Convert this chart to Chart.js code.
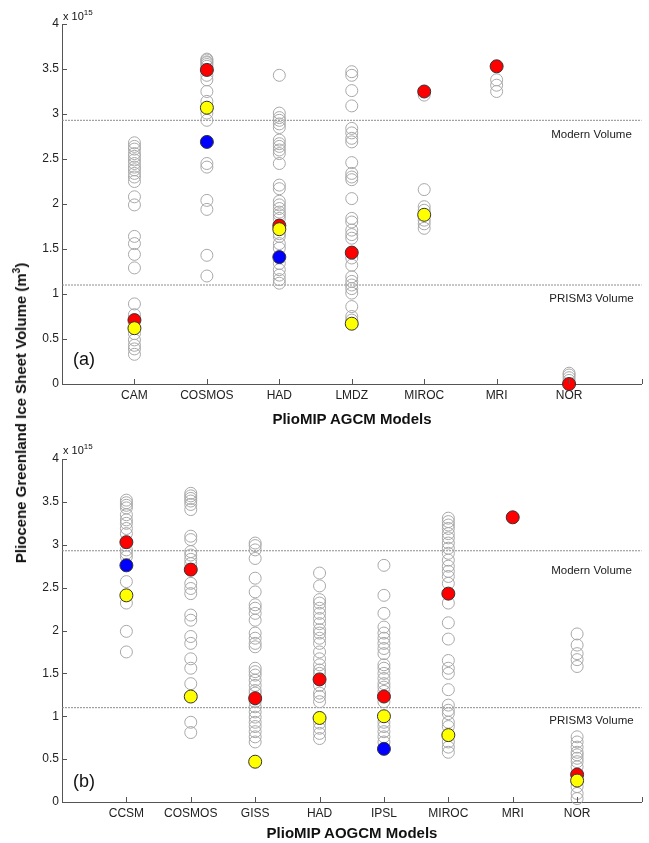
<!DOCTYPE html>
<html>
<head>
<meta charset="utf-8">
<script src="https://cdn.jsdelivr.net/npm/chart.js@4.4.1/dist/chart.umd.min.js"></script>
<style>
  body { margin: 0; background: #fff; font-family: "Liberation Sans", Arial, sans-serif; }
  #wrap { position: relative; width: 649px; height: 843px; overflow: hidden; }
  canvas { position: absolute; left: 0; }
  .t { position: absolute; color: #111; white-space: nowrap; }
  .title { font-weight: bold; font-size: 15px; transform: translate(-50%, -50%); }
  .ylab { font-weight: bold; font-size: 15px; left: 20px; top: 413px; transform: translate(-50%, -50%) rotate(-90deg); }
  .exp { font-size: 11px; left: 63px; }
  .exp sup { font-size: 8px; vertical-align: 5px; }
  .panel { font-size: 18px; left: 73px; }
</style>
</head>
<body>
<div id="wrap">
  <canvas id="agcm" width="649" height="420" style="top:0"></canvas>
  <canvas id="aogcm" width="649" height="423" style="top:420px"></canvas>
  <div class="t ylab">Pliocene Greenland Ice Sheet Volume (m<sup style="font-size:10px">3</sup>)</div>
  <div class="t title" style="left:352px; top:418px">PlioMIP AGCM Models</div>
  <div class="t title" style="left:352px; top:832px">PlioMIP AOGCM Models</div>
  <div class="t exp" style="top:8px">x 10<sup>15</sup></div>
  <div class="t exp" style="top:442px">x 10<sup>15</sup></div>
  <div class="t panel" style="top:349px">(a)</div>
  <div class="t panel" style="top:771px">(b)</div>
</div>
<script>
// volumes in units of 1e15 m3
const MODERN = 2.93;
const PRISM3 = 1.10;

const agcmModels = ['CAM', 'COSMOS', 'HAD', 'LMDZ', 'MIROC', 'MRI', 'NOR'];
const agcmGrey = [
  [2.68, 2.64, 2.61, 2.56, 2.53, 2.49, 2.45, 2.41, 2.38, 2.34, 2.30, 2.25, 2.08, 1.99, 1.64, 1.56, 1.44, 1.29, 0.89, 0.77, 0.56, 0.49, 0.43, 0.39, 0.33],
  [3.61, 3.60, 3.58, 3.57, 3.55, 3.53, 3.43, 3.38, 3.25, 3.14, 3.01, 2.93, 2.45, 2.41, 2.04, 1.94, 1.43, 1.20],
  [3.43, 3.01, 2.96, 2.93, 2.89, 2.85, 2.71, 2.67, 2.64, 2.60, 2.56, 2.45, 2.21, 2.17, 2.03, 1.99, 1.95, 1.91, 1.88, 1.84, 1.67, 1.64, 1.56, 1.51, 1.34, 1.27, 1.21, 1.16, 1.12],
  [3.47, 3.43, 3.26, 3.09, 2.84, 2.79, 2.73, 2.69, 2.46, 2.34, 2.30, 2.27, 2.06, 1.84, 1.80, 1.71, 1.66, 1.62, 1.40, 1.32, 1.19, 1.14, 1.10, 1.06, 1.01, 0.86, 0.75, 0.71],
  [3.21, 2.16, 1.97, 1.93, 1.82, 1.78, 1.73],
  [3.38, 3.32, 3.25],
  [0.04, 0.07, 0.10, 0.12]
];
const agcmRed = [0.71, 3.49, 1.76, 1.46, 3.25, 3.53, 0.00];
const agcmYellow = [0.62, 3.07, 1.72, 0.67, 1.88, null, null];
const agcmBlue = [null, 2.69, 1.41, null, null, null, null];

const aogcmModels = ['CCSM', 'COSMOS', 'GISS', 'HAD', 'IPSL', 'MIROC', 'MRI', 'NOR'];
const aogcmGrey = [
  [3.52, 3.49, 3.46, 3.43, 3.35, 3.29, 3.25, 3.19, 3.13, 2.94, 2.90, 2.86, 2.57, 2.32, 1.99, 1.75],
  [3.60, 3.57, 3.54, 3.51, 3.47, 3.41, 3.10, 3.06, 2.92, 2.88, 2.83, 2.78, 2.55, 2.49, 2.43, 2.18, 2.12, 1.93, 1.85, 1.67, 1.56, 1.38, 0.93, 0.81],
  [3.02, 2.99, 2.94, 2.84, 2.61, 2.45, 2.30, 2.26, 2.20, 2.12, 1.97, 1.91, 1.85, 1.81, 1.56, 1.52, 1.48, 1.42, 1.36, 1.30, 1.27, 1.17, 1.11, 1.05, 0.99, 0.93, 0.88, 0.82, 0.76, 0.70],
  [2.67, 2.52, 2.36, 2.32, 2.26, 2.20, 2.14, 2.08, 2.01, 1.97, 1.91, 1.85, 1.75, 1.67, 1.60, 1.54, 1.50, 1.36, 1.27, 1.23, 1.17, 0.92, 0.86, 0.80, 0.74],
  [2.76, 2.41, 2.20, 2.04, 1.97, 1.91, 1.85, 1.79, 1.73, 1.60, 1.56, 1.50, 1.44, 1.38, 1.34, 1.29, 1.17, 0.93, 0.88, 0.82, 0.76, 0.70],
  [3.31, 3.27, 3.23, 3.19, 3.13, 3.08, 3.02, 2.96, 2.90, 2.82, 2.75, 2.69, 2.63, 2.55, 2.32, 2.09, 1.90, 1.65, 1.56, 1.50, 1.31, 1.13, 1.07, 1.03, 0.93, 0.88, 0.70, 0.64, 0.58],
  [],
  [1.96, 1.83, 1.73, 1.66, 1.58, 0.76, 0.70, 0.64, 0.58, 0.55, 0.51, 0.47, 0.41, 0.18, 0.10, 0.04]
];
const aogcmRed = [3.03, 2.71, 1.21, 1.43, 1.23, 2.43, 3.32, 0.32];
const aogcmYellow = [2.41, 1.23, 0.47, 0.98, 1.00, 0.78, null, 0.25];
const aogcmBlue = [2.76, null, null, null, 0.62, null, null, null];

const yTicks = ['0', '0.5', '1', '1.5', '2', '2.5', '3', '3.5', '4'];

const AXIS = '#555555';
const FONT = '"Liberation Sans", Arial, sans-serif';

function greyPoints(groups) {
  return groups.flatMap((vals, i) => vals.map(v => ({ x: i + 1, y: v })));
}
function singlePoints(vals) {
  return vals.map((v, i) => v == null ? null : { x: i + 1, y: v }).filter(p => p);
}

// inward tick marks + reference-line labels
const extras = {
  id: 'extras',
  afterDraw(chart, args, opts) {
    const { ctx, chartArea: ca, scales: { x, y } } = chart;
    ctx.save();
    ctx.strokeStyle = AXIS;
    ctx.lineWidth = 1;
    ctx.beginPath();
    y.ticks.forEach(t => {
      const py = Math.round(y.getPixelForValue(t.value)) + 0.5;
      ctx.moveTo(ca.left, py);
      ctx.lineTo(ca.left + 5, py);
    });
    x.ticks.forEach(t => {
      if (t.value === 0) return;
      const px = Math.round(x.getPixelForValue(t.value)) + 0.5;
      ctx.moveTo(px, ca.bottom);
      ctx.lineTo(px, ca.bottom - 5);
    });
    ctx.stroke();
    ctx.fillStyle = '#222';
    ctx.font = '11.5px ' + FONT;
    ctx.textAlign = 'center';
    ctx.textBaseline = 'middle';
    opts.labels.forEach(l => {
      ctx.fillText(l.text, ca.right - 50, y.getPixelForValue(l.value) + l.dy);
    });
    ctx.restore();
  }
};

function makeChart(id, models, grey, red, yellow, blue, topPad, xHeight, labelDy) {
  const xMax = models.length + 1;
  const refLine = v => ({
    type: 'line',
    data: [{ x: 0, y: v }, { x: xMax, y: v }],
    borderColor: '#8c8c8c',
    borderWidth: 1,
    borderDash: [2, 1],
    pointRadius: 0,
    order: 10
  });
  const filled = (data, color) => ({
    data: data,
    backgroundColor: color,
    borderColor: '#333',
    borderWidth: 1,
    pointRadius: 6.5,
    order: 1
  });
  new Chart(document.getElementById(id), {
    type: 'scatter',
    data: {
      datasets: [
        refLine(MODERN),
        refLine(PRISM3),
        {
          data: greyPoints(grey),
          backgroundColor: 'rgba(0,0,0,0)',
          borderColor: '#a8a8a8',
          borderWidth: 1,
          pointRadius: 6,
          order: 5
        },
        filled(singlePoints(blue), '#0000ff'),
        filled(singlePoints(yellow), '#ffff00'),
        filled(singlePoints(red), '#ff0000')
      ]
    },
    options: {
      responsive: false,
      animation: false,
      events: [],
      clip: false,
      layout: { padding: { left: 0, right: 7, top: topPad, bottom: 0 } },
      plugins: {
        legend: { display: false },
        tooltip: { enabled: false },
        extras: {
          labels: [
            { text: 'Modern Volume', value: MODERN, dy: labelDy[0] },
            { text: 'PRISM3 Volume', value: PRISM3, dy: labelDy[1] }
          ]
        }
      },
      scales: {
        x: {
          type: 'linear',
          min: 0,
          max: xMax,
          grid: { display: false, drawTicks: false, tickLength: 0 },
          border: { display: true, color: AXIS, width: 1 },
          ticks: {
            stepSize: 1,
            autoSkip: false,
            maxRotation: 0,
            padding: 4,
            color: '#222',
            font: { family: FONT, size: 12 },
            callback: v => models[v - 1] || ''
          },
          afterFit: s => { s.height = xHeight; }
        },
        y: {
          min: 0,
          max: 4,
          grid: { display: false, drawTicks: false, tickLength: 0 },
          border: { display: true, color: AXIS, width: 1 },
          ticks: {
            stepSize: 0.5,
            padding: 3,
            color: '#222',
            font: { family: FONT, size: 12 },
            callback: (v, i) => yTicks[i]
          },
          afterFit: s => { s.width = 62; }
        }
      }
    },
    plugins: [extras]
  });
}

makeChart('agcm', agcmModels, agcmGrey, agcmRed, agcmYellow, agcmBlue, 24, 36, [15, 14]);
makeChart('aogcm', aogcmModels, aogcmGrey, aogcmRed, aogcmYellow, aogcmBlue, 39, 41, [20, 13]);
</script>
</body>
</html>
